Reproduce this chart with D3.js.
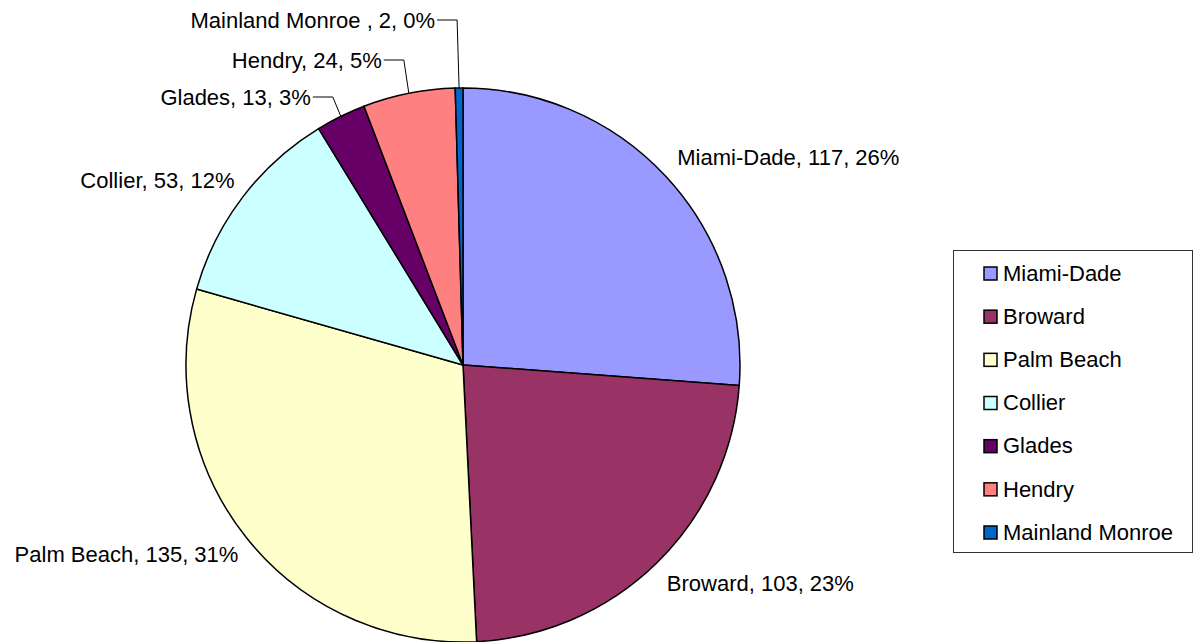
<!DOCTYPE html>
<html>
<head>
<meta charset="utf-8">
<script src="https://cdn.jsdelivr.net/npm/d3@7"></script>
<style>
  body { margin: 0; background: #fff; }
  text { font-family: "Liberation Sans", Arial, sans-serif; fill: #000; }
</style>
</head>
<body>
<svg id="chart" width="1194" height="642"></svg>
<script>
// Data
const counties = ["Miami-Dade", "Broward", "Palm Beach", "Collier", "Glades", "Hendry", "Mainland Monroe"];
const counts = [117, 103, 135, 53, 13, 24, 2];
const percentLabels = ["26%", "23%", "31%", "12%", "3%", "5%", "0%"];
const colors = ["#9999FF", "#993366", "#FFFFCC", "#CCFFFF", "#660066", "#FF8080", "#0066CC"];

const width = 1194;
const height = 642;
const cx = 463, cy = 365, radius = 277;
const fontSize = 22;

const svg = d3.select("#chart");

const slices = counties.map((name, i) => ({ name, value: counts[i], pct: percentLabels[i], color: colors[i] }));

const pie = d3.pie().sort(null).value((d) => d.value);
const arc = d3.arc().innerRadius(0).outerRadius(radius);
const arcs = pie(slices);

const g = svg.append("g").attr("transform", `translate(${cx},${cy})`);

g.selectAll("path")
  .data(arcs)
  .join("path")
  .attr("d", arc)
  .attr("fill", (d) => d.data.color)
  .attr("stroke", "#000")
  .attr("stroke-width", 1.5)
  .attr("stroke-linejoin", "round");

// Callout layout for thin slices at the top (label y and leader elbow)
const callouts = {
  "Glades": { y: -268, elbow: -8 },
  "Hendry": { y: -305, elbow: -5 },
  "Mainland Monroe": { y: -345, elbow: -2 },
};

function pointAt(angle, r) {
  return [Math.sin(angle) * r, -Math.cos(angle) * r];
}

const labels = g.append("g");

arcs.forEach((d) => {
  const mid = (d.startAngle + d.endAngle) / 2;
  const name = d.data.name === "Mainland Monroe" ? "Mainland Monroe " : d.data.name;
  const txt = `${name}, ${d.data.value}, ${d.data.pct}`;
  const c = callouts[d.data.name];

  if (c) {
    const [ex, ey] = pointAt(mid, radius);
    const elbowX = ex + c.elbow;
    const endX = elbowX - 20;
    labels.append("polyline")
      .attr("points", `${ex},${ey} ${elbowX},${c.y} ${endX},${c.y}`)
      .attr("fill", "none")
      .attr("stroke", "#000")
      .attr("stroke-width", 1);
    labels.append("text")
      .attr("x", endX - 2)
      .attr("y", c.y)
      .attr("dy", "0.35em")
      .attr("text-anchor", "end")
      .attr("font-size", fontSize)
      .text(txt);
  } else {
    const [px, py] = pointAt(mid, radius * 1.1);
    const right = Math.sin(mid) > 0;
    labels.append("text")
      .attr("x", right ? px - 9 : px + 14)
      .attr("y", py)
      .attr("dy", "0.35em")
      .attr("text-anchor", right ? "start" : "end")
      .attr("font-size", fontSize)
      .text(txt);
  }
});

// Legend
const legend = svg.append("g").attr("transform", "translate(953,250)");

legend.append("rect")
  .attr("x", 0.5)
  .attr("y", 0.5)
  .attr("width", 239)
  .attr("height", 302)
  .attr("fill", "#fff")
  .attr("stroke", "#333")
  .attr("stroke-width", 1);

const rowScale = d3.scalePoint().domain(counties).range([23, 282]);

const items = legend.selectAll("g.item")
  .data(slices)
  .join("g")
  .attr("class", "item")
  .attr("transform", (d) => `translate(0,${rowScale(d.name)})`);

items.append("rect")
  .attr("x", 31)
  .attr("y", -6)
  .attr("width", 13)
  .attr("height", 13)
  .attr("fill", (d) => d.color)
  .attr("stroke", "#000")
  .attr("stroke-width", 1.5);

items.append("text")
  .attr("x", 50)
  .attr("y", 0)
  .attr("dy", "0.35em")
  .attr("font-size", fontSize)
  .text((d) => d.name);
</script>
</body>
</html>
